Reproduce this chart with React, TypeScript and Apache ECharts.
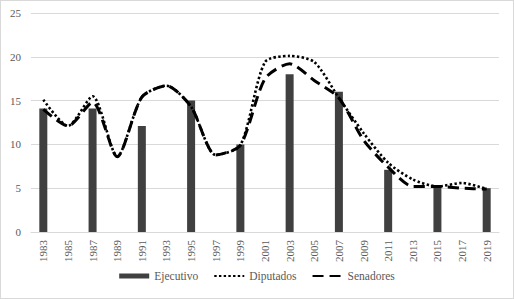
import React, { useEffect, useRef } from "react";
import * as echarts from "echarts";

const years = ["1983","1985","1987","1989","1991","1993","1995","1997","1999","2001","2003","2005","2007","2009","2011","2013","2015","2017","2019"];
const ejecutivo = [14.1, null, 14.1, null, 12.1, null, 15, null, 10, null, 18, null, 16, null, 7.1, null, 5.1, null, 5];
const diputados = [15.1, 12.1, 15.5, 8.6, 15.4, 16.7, 14.3, 8.8, 9.9, 19.4, 20.1, 19.4, 15.3, 11.3, 7.9, 6.0, 5.2, 5.6, 4.9];
const senadores = [14.0, 12.1, 14.8, 8.6, 15.4, 16.7, 14.3, 8.8, 9.9, 17.5, 19.2, 17.3, 15.3, 10.5, 7.4, 5.2, 5.2, 5.0, 4.9];
const yTicks = { min: 0, max: 25, interval: 5 };

const FONT = "Liberation Serif";
const TEXT = "#595959";

export default function App() {
  const ref = useRef<HTMLDivElement>(null);
  useEffect(() => {
    document.body.style.margin = "0";
    const chart = echarts.init(ref.current!, null, { renderer: "svg" });
    chart.setOption({
      animation: false,
      textStyle: { fontFamily: FONT },
      grid: { left: 30, right: 14, top: 12, bottom: 66 },
      legend: {
        bottom: 11,
        left: "center",
        itemWidth: 30,
        itemHeight: 5,
        itemGap: 15,
        textStyle: { color: TEXT, fontSize: 11.5, fontFamily: FONT },
        data: [
          { name: "Ejecutivo", icon: "rect" },
          { name: "Diputados", itemStyle: { opacity: 0 } },
          { name: "Senadores", itemStyle: { opacity: 0 } },
        ],
      },
      xAxis: {
        type: "category",
        data: years,
        axisTick: { show: false },
        axisLine: { lineStyle: { color: "#d9d9d9", width: 1 } },
        axisLabel: { rotate: 90, color: TEXT, fontSize: 11, fontFamily: FONT, margin: 8 },
      },
      yAxis: {
        type: "value",
        min: yTicks.min,
        max: yTicks.max,
        interval: yTicks.interval,
        axisLine: { show: false },
        axisTick: { show: false },
        splitLine: { lineStyle: { color: "#d9d9d9", width: 1 } },
        axisLabel: { color: TEXT, fontSize: 11, fontFamily: FONT, margin: 10 },
      },
      series: [
        {
          name: "Ejecutivo",
          type: "bar",
          data: ejecutivo,
          barWidth: 8,
          itemStyle: { color: "#404040" },
        },
        {
          name: "Diputados",
          type: "line",
          data: diputados,
          smooth: 0.25,
          symbol: "none",
          itemStyle: { color: "#000" },
          lineStyle: { color: "#000", width: 2.6, type: [2.4, 2.3] },
        },
        {
          name: "Senadores",
          type: "line",
          data: senadores,
          smooth: 0.25,
          symbol: "none",
          itemStyle: { color: "#000" },
          lineStyle: { color: "#000", width: 3, type: [11, 6] },
        },
      ],
    });
    return () => chart.dispose();
  }, []);
  return (
    <div
      style={{
        width: 514,
        height: 299,
        boxSizing: "border-box",
        border: "1px solid #d9d9d9",
        background: "#fff",
      }}
    >
      <div ref={ref} style={{ width: 512, height: 297 }} />
    </div>
  );
}
